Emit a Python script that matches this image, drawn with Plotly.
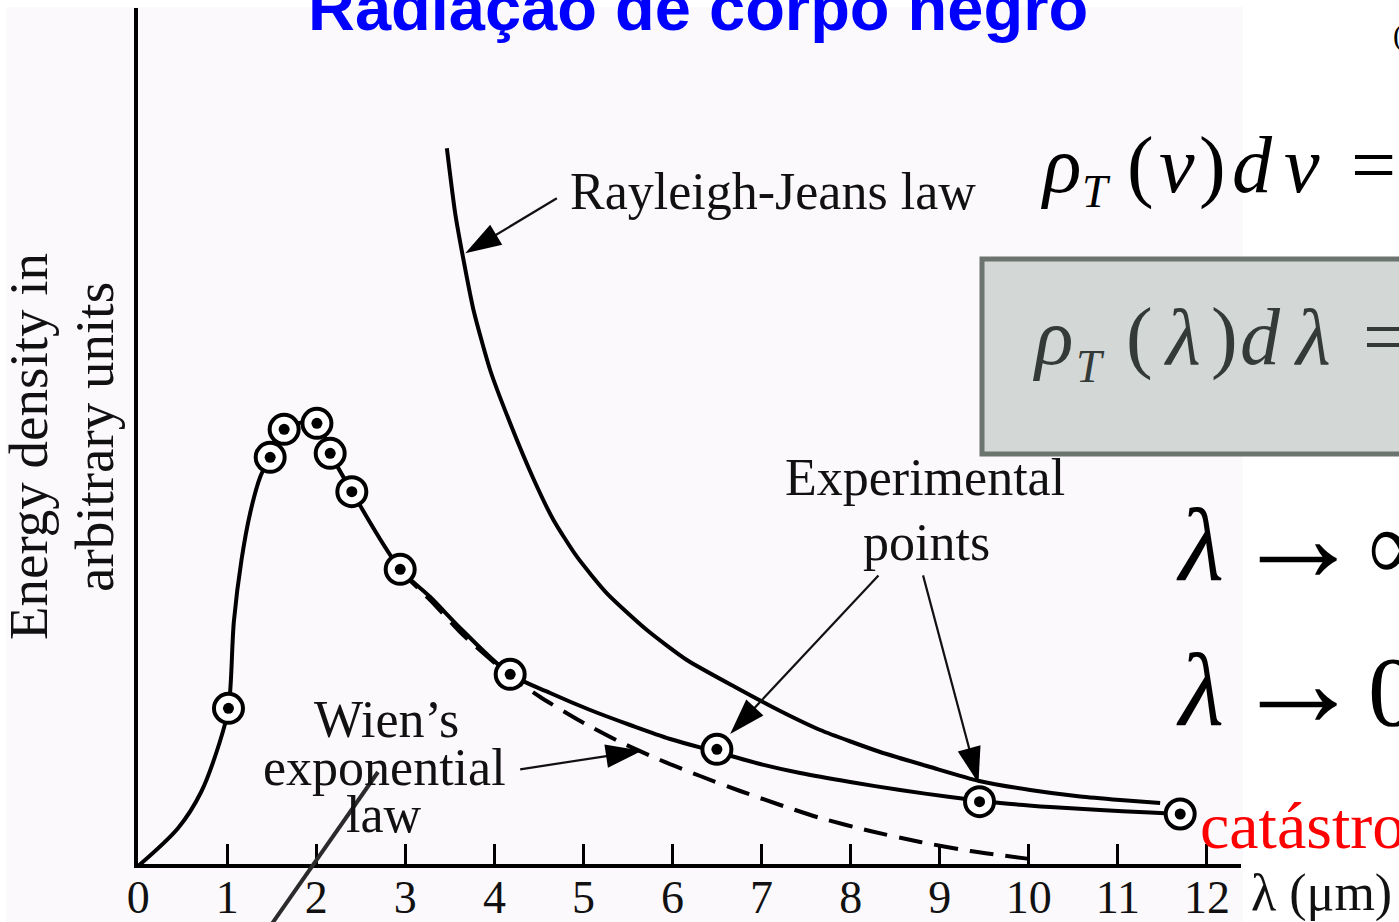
import plotly.graph_objects as go

W, H = 1399, 922

# ---- curve data: wavelength (um) vs energy density (arbitrary units) ----
# experimental (Planck) curve, solid
planck_x = [0.0, 0.449, 0.707, 0.909, 1.014, 1.075, 1.160, 1.260, 1.370, 1.482,
            1.639, 2.010, 2.156, 2.403, 2.942, 3.279, 3.649, 4.177, 4.626, 5.075,
            5.524, 5.973, 6.500, 6.983, 7.433, 7.995, 8.556, 9.117, 9.679, 10.240,
            10.802, 11.363, 11.700]
planck_y = [0.0, 3.8, 7.4, 12.2, 15.77, 24.5, 30.6, 35.4, 38.9, 40.9,
            43.7, 44.3, 41.3, 37.4, 29.7, 26.9, 23.5, 19.2, 17.3, 15.6,
            14.1, 12.7, 11.4, 10.2, 9.3, 8.4, 7.6, 6.9, 6.3, 5.9,
            5.6, 5.35, 5.2]

# measured points
exp_x = [1.014, 1.482, 1.639, 2.007, 2.156, 2.399, 2.942, 4.177, 6.498, 9.447, 11.70]
exp_y = [15.77, 40.87, 43.67, 44.27, 41.27, 37.43, 29.67, 19.17, 11.67, 6.43, 5.2]

# Rayleigh-Jeans law
rj_x = [3.466, 3.559, 3.646, 3.765, 3.952, 4.177, 4.439, 4.663, 4.926, 5.263,
        5.712, 6.161, 6.723, 7.209, 7.658, 8.331, 8.893, 9.443, 10.016, 10.577,
        11.026, 11.475]
rj_y = [71.77, 65.3, 60.93, 55.6, 49.6, 44.27, 38.7, 34.6, 30.93, 27.27,
        23.6, 20.6, 17.8, 15.5, 13.6, 11.4, 9.9, 8.5, 7.6, 6.95,
        6.6, 6.3]

# Wien's exponential law, dashed
wien_x = [2.942, 3.279, 3.649, 4.177, 4.514, 4.963, 5.412, 5.861, 6.310, 6.759,
          7.209, 7.658, 8.219, 8.781, 9.342, 10.016]
wien_y = [29.5, 26.6, 23.1, 19.0, 16.9, 14.5, 12.4, 10.6, 9.0, 7.5,
          6.1, 4.8, 3.5, 2.4, 1.5, 0.7]

tick_vals = list(range(13))
tick_text = [str(v) for v in tick_vals]

# label pointers: (tail, tip) in data units
pointers = [
    ((4.701, 66.77), (3.672, 61.27)),   # Rayleigh-Jeans law
    ((4.289, 9.67), (5.656, 11.53)),    # Wien's exponential law
    ((8.312, 29.06), (6.647, 13.2)),    # experimental points
    ((8.813, 29.06), (9.435, 8.27)),
]

SERIF = "Liberation Serif, Times New Roman, serif"
SANS = "Liberation Sans, Arial, sans-serif"
INK = "#111111"

# plot area geometry (pixels)
L, R, T, B = 138, 1241, 8, 864
X_PER = 89.06
Y_PER = 10.0
x_lo = (L - 138) / X_PER - 0.002
x_hi = x_lo + (R - L) / X_PER
y_lo = (866 - B) / Y_PER
y_hi = y_lo + (B - T) / Y_PER

fig = go.Figure()

fig.add_trace(go.Scatter(x=rj_x, y=rj_y, mode="lines",
                         line=dict(color="black", width=4, shape="spline", smoothing=0.6),
                         hoverinfo="skip"))
fig.add_trace(go.Scatter(x=wien_x, y=wien_y, mode="lines",
                         line=dict(color="black", width=4, dash="24px,12px",
                                   shape="spline", smoothing=0.6),
                         hoverinfo="skip"))
fig.add_trace(go.Scatter(x=planck_x, y=planck_y, mode="lines",
                         line=dict(color="black", width=4, shape="spline", smoothing=0.9),
                         hoverinfo="skip"))
fig.add_trace(go.Scatter(x=exp_x, y=exp_y, mode="markers", cliponaxis=False,
                         marker=dict(symbol="circle", size=29, color="white", opacity=1,
                                     line=dict(color="black", width=4)),
                         hoverinfo="skip"))
fig.add_trace(go.Scatter(x=exp_x, y=exp_y, mode="markers", cliponaxis=False,
                         marker=dict(symbol="circle", size=11, color="black", opacity=1,
                                     line=dict(width=0)),
                         hoverinfo="skip"))

for (tx, ty), (hx, hy) in pointers:
    fig.add_trace(go.Scatter(x=[tx, hx], y=[ty, hy], mode="lines+markers", cliponaxis=False,
                             line=dict(color=INK, width=2.2),
                             marker=dict(symbol="arrow", size=[0, 38], color="black",
                                         opacity=1, angleref="previous",
                                         line=dict(width=0)),
                             hoverinfo="skip"))

# arrow head on top of the vertical axis
fig.add_trace(go.Scatter(x=[(136 - 138) / X_PER] * 2, y=[y_hi - 6, y_hi], mode="markers",
                         cliponaxis=False,
                         marker=dict(symbol="arrow", size=[0, 40], color="black", opacity=1,
                                     angleref="previous", line=dict(width=0)),
                         hoverinfo="skip"))


def px(x):
    return x / W


def py(y):
    return 1 - y / H


annotations = []


def label(text, x, y, size, family=SERIF, color=INK, xanchor="center", angle=0, bold=False):
    annotations.append(dict(
        text=text, x=px(x), y=py(y), xref="paper", yref="paper",
        xanchor=xanchor, yanchor="middle", showarrow=False, textangle=angle,
        font=dict(family=family, size=size, color=color,
                  weight="bold" if bold else "normal")))


def on_base(base, size):
    # centre of a serif text box whose baseline sits at `base`
    return base - 0.3375 * size


# title
label("Radiação de corpo negro", 698, 8, 65, family=SANS, color="#0000ff", bold=True)

# curve captions
CAP = 52
label("Rayleigh-Jeans law", 568, on_base(209, CAP), CAP, xanchor="left")
label("Experimental", 925, on_base(495, CAP), CAP)
label("points", 926, on_base(560, CAP), CAP)
label("Wien’s", 386, on_base(737, CAP), CAP)
label("exponential", 384, on_base(785, CAP), CAP)
label("law", 384, on_base(832, CAP), CAP)

# axis titles
label("Energy density in", 28, 447, 55, angle=-90)
label("arbitrary units", 94, 437, 55, angle=-90)
label("λ (μm)", 1249, on_base(911, 52), 52, xanchor="left")

# formulas on the right
F1, F2 = 80, 46
for g, x in [("<i>ρ</i>", 1060), ("(", 1140), ("<i>ν</i>", 1177), (")", 1212),
             ("<i>d</i>", 1252), ("<i>ν</i>", 1302), ("=", 1373)]:
    label(g, x, on_base(192, F1), F1, color="black")
label("<i>T</i>", 1096, on_base(207, F2), F2, color="black")

BOX_INK = "#343a37"
for g, x in [("<i>ρ</i>", 1052), ("(", 1139), ("<i>λ</i>", 1182), (")", 1224),
             ("<i>d</i>", 1260), ("<i>λ</i>", 1312), ("=", 1385)]:
    label(g, x, on_base(364, F1), F1, color=BOX_INK)
label("<i>T</i>", 1090, on_base(382, F2), F2, color=BOX_INK)

F3, FA = 104, 130
for base, tail in [(580, "∞"), (725, "0")]:
    label("<i>λ</i>", 1200, on_base(base, F3), F3, color="black")
    label("→", 1298, base - 0.27 * FA - 8, FA, color="black")
    label(tail, 1366, on_base(base, 100), 100, color="black", xanchor="left")

label("catástrofe do ultravioleta", 1198, on_base(848, 66), 66, color="#ff0000", xanchor="left")
label("(", 1391, 35, 30, color="black", xanchor="left")

shapes = [
    # tinted scan area
    dict(type="rect", xref="paper", yref="paper", x0=px(6), x1=px(1243), y0=py(922), y1=py(7),
         fillcolor="#fcf9fc", line=dict(width=0), layer="below"),
    # formula box
    dict(type="rect", xref="paper", yref="paper", x0=px(982), x1=px(1450), y0=py(454), y1=py(259),
         fillcolor="#d3d7d6", line=dict(color="#6b746f", width=5), layer="above"),
    # pen stroke across the figure
    dict(type="line", xref="paper", yref="paper", x0=px(378), y0=py(772), x1=px(262), y1=py(938),
         line=dict(color="#2b2b2b", width=4), layer="above"),
]

fig.update_layout(
    template="none",
    width=W, height=H,
    margin=dict(l=0, r=0, t=0, b=0, autoexpand=False),
    paper_bgcolor="white", plot_bgcolor="rgba(0,0,0,0)",
    showlegend=False,
    annotations=annotations,
    shapes=shapes,
    xaxis=dict(domain=[L / W, R / W], range=[x_lo, x_hi], showline=True, linecolor="black",
               linewidth=4, ticks="inside", ticklen=20, tickwidth=3, tickcolor="black",
               tickvals=tick_vals, ticktext=tick_text, showgrid=False, zeroline=False,
               automargin=False, ticklabelstandoff=-10,
               tickfont=dict(family=SERIF, size=46, color=INK), fixedrange=True),
    yaxis=dict(domain=[1 - B / H, 1 - T / H], range=[y_lo, y_hi], showline=True,
               linecolor="black", linewidth=4, showticklabels=False, ticks="",
               showgrid=False, zeroline=False, automargin=False, fixedrange=True),
)

fig.write_html("out.html", config={"displayModeBar": False},
               post_script="document.body.style.margin='0';")
